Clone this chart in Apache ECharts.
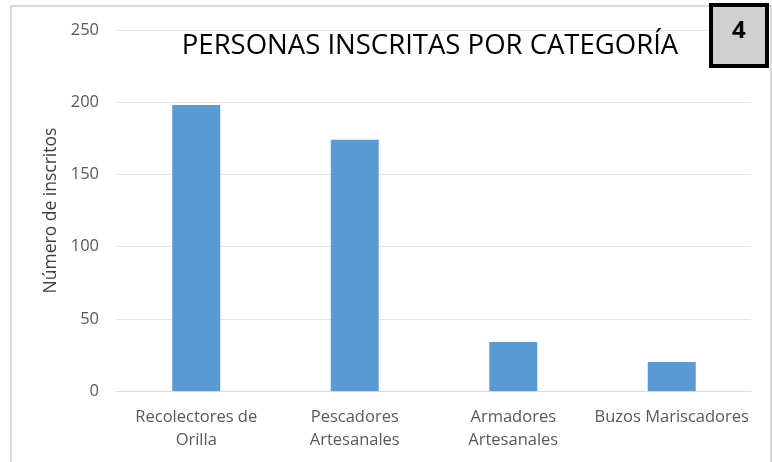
<!DOCTYPE html>
<html>
<head>
<meta charset="utf-8">
<script src="https://cdn.jsdelivr.net/npm/echarts@6/dist/echarts.min.js"></script>
<style>
  html, body { margin: 0; padding: 0; background: #fff; }
  #main { width: 772px; height: 462px; }
</style>
</head>
<body>
<div id="main"></div>
<script>
// datos del gráfico
var categorias = ['Recolectores de\nOrilla', 'Pescadores\nArtesanales', 'Armadores\nArtesanales', 'Buzos Mariscadores'];
var inscritos = [198, 174, 34, 20];
var ticksY = [0, 50, 100, 150, 200, 250];

var chart = echarts.init(document.getElementById('main'));
var font = '"Open Sans", "Noto Sans", sans-serif';

var option = {
  animation: false,
  backgroundColor: '#fff',
  grid: { left: 117, right: 21, top: 30, bottom: 71 },
  title: {
    text: 'PERSONAS INSCRITAS POR CATEGORÍA',
    left: 425,
    textAlign: 'center',
    top: 27,
    textStyle: { fontFamily: font, fontSize: 27.5, fontWeight: 'normal', color: '#000' }
  },
  xAxis: {
    type: 'category',
    data: categorias,
    axisLine: { lineStyle: { color: '#d9d9d9', width: 1 } },
    axisTick: { show: false },
    axisLabel: {
      interval: 0, margin: 15, color: '#595959',
      fontFamily: font, fontSize: 16.5, lineHeight: 23
    }
  },
  yAxis: {
    type: 'value',
    min: ticksY[0], max: ticksY[ticksY.length - 1], interval: 50,
    name: 'Número de inscritos',
    nameLocation: 'middle',
    nameGap: 50,
    nameTextStyle: { fontFamily: font, fontSize: 17.5, color: '#404040' },
    axisLine: { show: false },
    axisTick: { show: false },
    axisLabel: { margin: 18, color: '#595959', fontFamily: font, fontSize: 16.5 },
    splitLine: { lineStyle: { color: '#e6e6e6', width: 1 } }
  },
  series: [{
    type: 'bar',
    data: inscritos,
    barWidth: 48,
    itemStyle: { color: '#5b9bd5' }
  }],
  graphic: [
    {
      type: 'rect', z: -1,
      shape: { x: 11, y: 6, width: 760, height: 470 },
      style: { fill: 'none', stroke: '#d9d9d9', lineWidth: 2 }
    },
    {
      type: 'rect', z: 10,
      shape: { x: 711, y: 5, width: 56, height: 61 },
      style: { fill: '#d0d0d0', stroke: '#000', lineWidth: 4 }
    },
    {
      type: 'text', z: 11,
      left: 732, top: 19,
      style: { text: '4', fontFamily: font, fontSize: 24, fontWeight: 'bold', fill: '#000' }
    }
  ]
};
chart.setOption(option);
</script>
</body>
</html>
